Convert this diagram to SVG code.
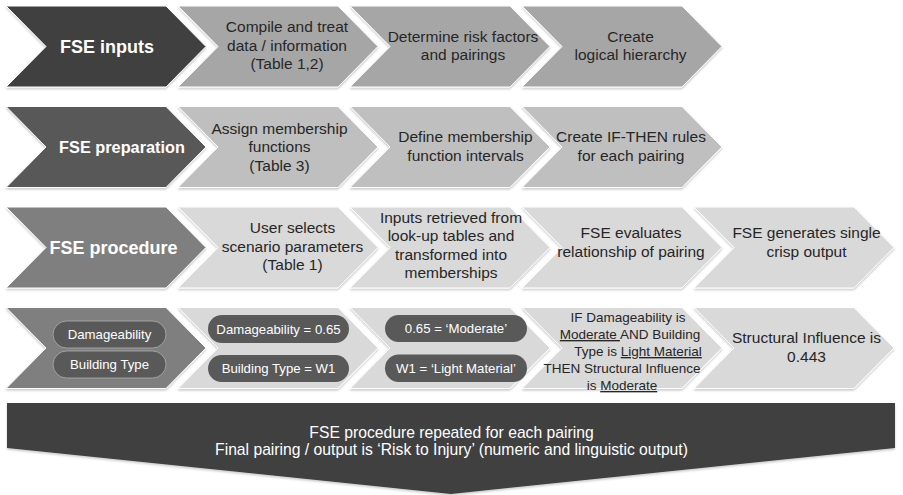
<svg xmlns="http://www.w3.org/2000/svg" width="903" height="495" viewBox="0 0 903 495">
<defs>
<filter id="sh" x="-5%" y="-10%" width="110%" height="130%">
<feDropShadow dx="0" dy="1.5" stdDeviation="1.2" flood-color="#000" flood-opacity="0.22"/>
</filter>
<style>
text{font-family:"Liberation Sans",Arial,Helvetica,sans-serif;text-anchor:middle}
.chev{stroke:#fff;stroke-width:1;filter:url(#sh)}
.d1{fill:#404040}.d2{fill:#595959}.d3{fill:#7f7f7f}
.l1{fill:#a6a6a6}.l2{fill:#bfbfbf}.l3{fill:#d9d9d9}
.hd{fill:#fff;font-weight:bold;font-size:18px}
.t{fill:#262626;font-size:15.5px}
.s{fill:#262626;font-size:13.5px}
.pill{fill:#595959}
.pillo{fill:#595959;stroke:#b0b0b0;stroke-width:0.8}
.pt{fill:#fff;font-size:13.2px}
.bt{fill:#fff;font-size:15.7px}
</style>
</defs>
<rect width="903" height="495" fill="#fff"/>

<!-- Row 1 -->
<g id="inputs-head"><polygon class="chev d1" points="6,6 166,6 206,46.5 166,87 6,87 46,46.5"/><text class="hd" x="107" y="52.5">FSE inputs</text></g>
<g id="inputs-1"><polygon class="chev l1" points="178,6 338,6 378,46.5 338,87 178,87 218,46.5"/><text class="t" x="287" y="32">Compile and treat</text><text class="t" x="287" y="50.5">data / information</text><text class="t" x="287" y="69">(Table 1,2)</text></g>
<g id="inputs-2"><polygon class="chev l1" points="350,6 510,6 550,46.5 510,87 350,87 390,46.5"/><text class="t" x="463" y="41.5">Determine risk factors</text><text class="t" x="463" y="60">and pairings</text></g>
<g id="inputs-3"><polygon class="chev l1" points="522,6 682,6 722,46.5 682,87 522,87 562,46.5"/><text class="t" x="630.5" y="41.5">Create</text><text class="t" x="630.5" y="60">logical hierarchy</text></g>

<!-- Row 2 -->
<g id="prep-head"><polygon class="chev d2" points="6,106.5 166,106.5 206,147 166,187.5 6,187.5 46,147"/><text class="hd" x="122" y="153" style="font-size:16.3px">FSE preparation</text></g>
<g id="prep-1"><polygon class="chev l2" points="178,106.5 338,106.5 378,147 338,187.5 178,187.5 218,147"/><text class="t" x="279.5" y="133.5">Assign membership</text><text class="t" x="279.5" y="152">functions</text><text class="t" x="279.5" y="170.5">(Table 3)</text></g>
<g id="prep-2"><polygon class="chev l2" points="350,106.5 510,106.5 550,147 510,187.5 350,187.5 390,147"/><text class="t" x="465.5" y="142">Define membership</text><text class="t" x="465.5" y="160.5">function intervals</text></g>
<g id="prep-3"><polygon class="chev l2" points="522,106.5 682,106.5 722,147 682,187.5 522,187.5 562,147"/><text class="t" x="631" y="142">Create IF-THEN rules</text><text class="t" x="631" y="160.5">for each pairing</text></g>

<!-- Row 3 -->
<g id="proc-head"><polygon class="chev d3" points="6,207 166,207 206,247.5 166,288 6,288 46,247.5"/><text class="hd" x="113.5" y="253.5">FSE procedure</text></g>
<g id="proc-1"><polygon class="chev l3" points="178,207 338,207 378,247.5 338,288 178,288 218,247.5"/><text class="t" x="292.5" y="232.5">User selects</text><text class="t" x="292.5" y="251.5">scenario parameters</text><text class="t" x="292.5" y="270">(Table 1)</text></g>
<g id="proc-2"><polygon class="chev l3" points="350,207 510,207 550,247.5 510,288 350,288 390,247.5"/><text class="t" x="451" y="222.5">Inputs retrieved from</text><text class="t" x="451" y="241">look-up tables and</text><text class="t" x="451" y="259.5">transformed into</text><text class="t" x="451" y="278">memberships</text></g>
<g id="proc-3"><polygon class="chev l3" points="522,207 682,207 722,247.5 682,288 522,288 562,247.5"/><text class="t" x="631" y="238">FSE evaluates</text><text class="t" x="631" y="256.5">relationship of pairing</text></g>
<g id="proc-4"><polygon class="chev l3" points="694,207 854,207 894,247.5 854,288 694,288 734,247.5"/><text class="t" x="806.5" y="238">FSE generates single</text><text class="t" x="806.5" y="256.5">crisp output</text></g>

<!-- Row 4 -->
<g id="ex-head"><polygon class="chev d3" points="6,307.5 166,307.5 206,348 166,388.5 6,388.5 46,348"/>
<rect class="pillo" x="53" y="321" width="113" height="27" rx="13.5"/><text class="pt" x="109.5" y="338.5">Damageability</text>
<rect class="pillo" x="53" y="351" width="113" height="27" rx="13.5"/><text class="pt" x="109.5" y="368.5">Building Type</text></g>
<g id="ex-1"><polygon class="chev l3" points="178,307.5 338,307.5 378,348 338,388.5 178,388.5 218,348"/>
<rect class="pill" x="208" y="315" width="141" height="28" rx="14"/><text class="pt" x="278.5" y="333.5">Damageability = 0.65</text>
<rect class="pill" x="208" y="355" width="141" height="27" rx="13.5"/><text class="pt" x="278.5" y="373">Building Type = W1</text></g>
<g id="ex-2"><polygon class="chev l3" points="350,307.5 510,307.5 550,348 510,388.5 350,388.5 390,348"/>
<rect class="pill" x="385" y="315" width="142" height="27" rx="13.5"/><text class="pt" x="456" y="333">0.65 = ‘Moderate’</text>
<rect class="pill" x="385" y="354.5" width="142" height="27.5" rx="13.75"/><text class="pt" x="456" y="373">W1 = ‘Light Material’</text></g>
<g id="ex-3"><polygon class="chev l3" points="522,307.5 682,307.5 722,348 682,388.5 522,388.5 562,348"/>
<text class="s" x="628" y="322">IF Damageability is</text>
<text class="s" x="630" y="339" xml:space="preserve"><tspan text-decoration="underline">Moderate </tspan>AND Building</text>
<text class="s" x="638" y="356">Type is <tspan text-decoration="underline">Light Material</tspan></text>
<text class="s" x="622" y="373">THEN Structural Influence</text>
<text class="s" x="622" y="390">is <tspan text-decoration="underline">Moderate</tspan></text></g>
<g id="ex-4"><polygon class="chev l3" points="694,307.5 854,307.5 894,348 854,388.5 694,388.5 734,348"/><text class="t" x="806.5" y="343">Structural Influence is</text><text class="t" x="806.5" y="362">0.443</text></g>

<g id="connectors"/>

<!-- Bottom arrow -->
<g id="summary"><polygon points="7,403 895,403 895,448 451,494 7,448" fill="#404040" filter="url(#sh)"/>
<text class="bt" x="451.5" y="437.5">FSE procedure repeated for each pairing</text>
<text class="bt" x="451.5" y="455">Final pairing / output is ‘Risk to Injury’ (numeric and linguistic output)</text></g>
</svg>
